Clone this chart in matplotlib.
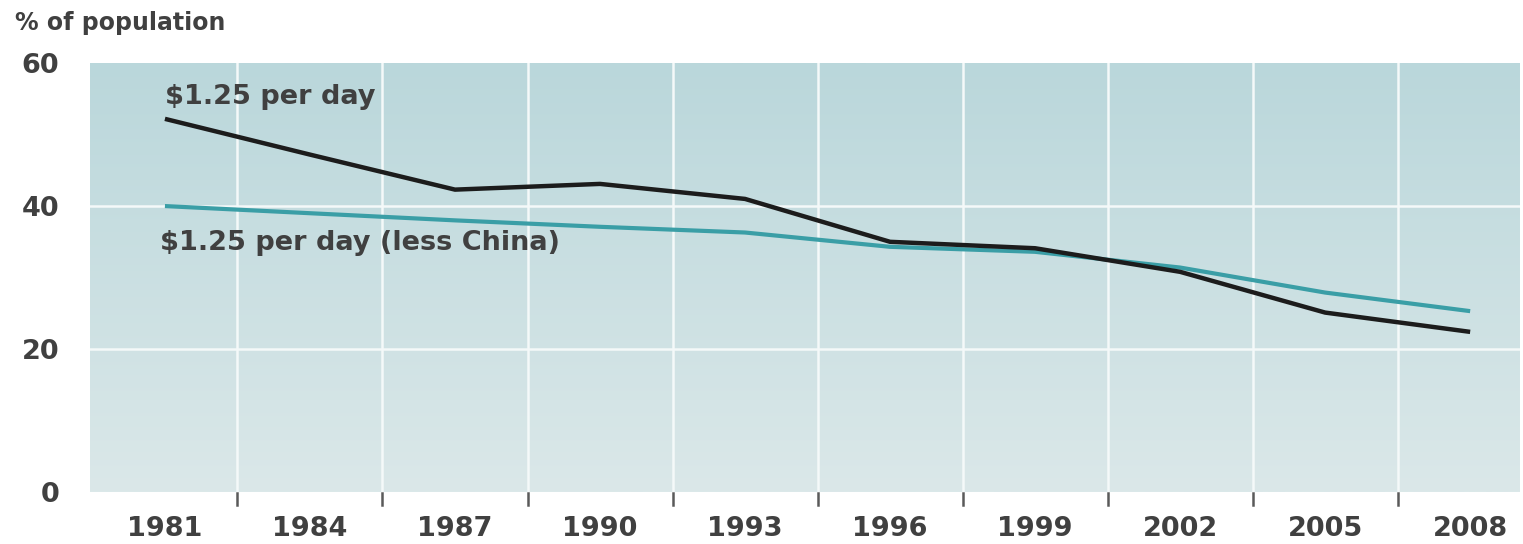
import numpy as np
import matplotlib
matplotlib.use("Agg")
import matplotlib.pyplot as plt
from matplotlib.colors import LinearSegmentedColormap

# Poverty headcount, % of population living on $1.25 a day
years = [1981, 1984, 1987, 1990, 1993, 1996, 1999, 2002, 2005, 2008]
world = [52.2, 47.2, 42.3, 43.1, 41.0, 35.0, 34.1, 30.8, 25.1, 22.4]
world_less_china = [40.0, 39.0, 38.0, 37.1, 36.3, 34.3, 33.6, 31.4, 27.9, 25.3]
y_ticks = [0, 20, 40, 60]
x_labels = [str(y) for y in years]

FONT = "DejaVu Sans"
TEXT = "#404040"

fig = plt.figure(figsize=(15.23, 5.44), dpi=100)
ax = fig.add_axes([0.0591, 0.0956, 0.9389, 0.7884])

x0, x1 = 1979.45, 2009.03
ax.set_xlim(x0, x1)
ax.set_ylim(0, 60)

# soft vertical gradient background
cmap = LinearSegmentedColormap.from_list("bg", ["#dbe8e9", "#bad7db"])
grad = np.linspace(0, 1, 256).reshape(-1, 1)
ax.imshow(grad, cmap=cmap, origin="lower", aspect="auto",
          extent=[x0, x1, 0, 60], zorder=0)

# white grid: horizontal at 20/40, vertical between year labels
for v in [20, 40]:
    ax.axhline(v, color="#f4f9f9", lw=1.8, zorder=1)
mids = [(a + b) / 2 for a, b in zip(years[:-1], years[1:])]
for m in mids:
    ax.axvline(m, color="#f4f9f9", lw=1.8, zorder=1)

ax.plot(years, world, color="#1c1c1c", lw=3.2, solid_capstyle="butt", zorder=3)
ax.plot(years, world_less_china, color="#3a9ea6", lw=3.0, solid_capstyle="butt", zorder=2)

for s in ax.spines.values():
    s.set_visible(False)

ax.set_yticks(y_ticks)
ax.set_yticklabels([str(v) for v in y_ticks], fontsize=19.5, fontweight="bold",
                   color=TEXT, family=FONT)
ax.tick_params(axis="y", length=0, pad=22)

ax.set_xticks(years)
ax.set_xticklabels(x_labels, fontsize=19.5, fontweight="bold", color=TEXT, family=FONT)
ax.tick_params(axis="x", length=0, pad=17)

# small tick marks under the axis at gridline positions
for m in mids:
    ax.plot([m, m], [-0.2, -1.8], color="#5a5a5a", lw=1.8, clip_on=False, zorder=4)

ax.text(1981.0, 55.3, r"\$1.25 per day", fontsize=19.5, fontweight="bold",
        color=TEXT, family=FONT, ha="left", va="center")
ax.text(1980.9, 34.9, r"\$1.25 per day (less China)", fontsize=19.5, fontweight="bold",
        color=TEXT, family=FONT, ha="left", va="center")

fig.text(15 / 1523, 1 - 23 / 544, "% of population", fontsize=17, fontweight="bold",
         color=TEXT, family=FONT, ha="left", va="center")

fig.savefig("out.png", dpi=100, facecolor="white")
